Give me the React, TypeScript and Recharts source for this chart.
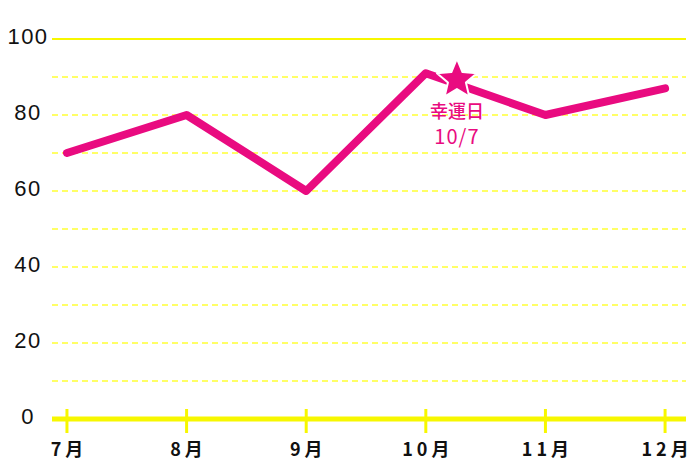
import React from 'react'
import { LineChart, Line, XAxis, YAxis, ReferenceLine, Scatter } from 'recharts'

// months on the x axis (numeric so the lucky-day star can sit between them)
const months = [7, 8, 9, 10, 11, 12]
const monthLabels = ['7月', '8月', '9月', '10月', '11月', '12月']
const fortune = [70, 80, 60, 91, 80, 87]

const yTicks = [0, 20, 40, 60, 80, 100]
const gridValues = [10, 20, 30, 40, 50, 60, 70, 80, 90]

// lucky day marker: Oct 7
const luckyX = [10.26]
const luckyY = [89.3]
const luckyText = ['幸運日']
const luckyDate = ['10/7']

const PINK = '#E90B80'
const YELLOW = '#F7F700'

const data = months.map((m, i) => ({ x: m, v: fortune[i] }))
const starData = luckyX.map((x, i) => ({ x, v: luckyY[i], text: luckyText[i], date: luckyDate[i] }))

const MonthTick = (props: any) => {
  const { x, y, payload } = props
  const idx = months.indexOf(payload.value)
  return (
    <g>
      <line x1={x} x2={x} y1={y - 10} y2={y + 14} stroke={YELLOW} strokeWidth={3} />
      <text x={x + 2} y={y + 37} textAnchor="middle" fontSize={18} fontWeight="bold"
        letterSpacing={4} fill="#111" fontFamily="'Noto Sans CJK JP', sans-serif">
        {monthLabels[idx]}
      </text>
    </g>
  )
}

const ValueTick = (props: any) => {
  const { y, payload } = props
  return (
    <text x={28} y={y - 3} textAnchor="middle" dominantBaseline="central" fontSize={22}
      letterSpacing={1.5} fill="#111" fontFamily="'Liberation Sans', sans-serif">
      {payload.value}
    </text>
  )
}

const Star = (props: any) => {
  const { cx, cy, payload } = props
  const R = 21
  const r = R * 0.45
  const pts = []
  for (let i = 0; i < 10; i++) {
    const rad = i % 2 === 0 ? R : r
    const a = -Math.PI / 2 + (i * Math.PI) / 5
    pts.push(`${cx + rad * Math.cos(a)},${cy + rad * Math.sin(a)}`)
  }
  return (
    <g>
      <polygon points={pts.join(' ')} fill={PINK} stroke="#fff" strokeWidth={2} strokeLinejoin="round" />
      <text x={cx} y={cy + 38} textAnchor="middle" fontSize={18} fill={PINK} fontWeight={500}
        fontFamily="'Noto Sans CJK JP', sans-serif">{payload.text}</text>
      <text x={cx} y={cy + 64} textAnchor="middle" fontSize={20} fill={PINK} letterSpacing={1}
        fontFamily="'Noto Sans CJK JP', sans-serif">{payload.date}</text>
    </g>
  )
}

export default function App() {
  return (
    <div style={{ margin: -8, width: 700, height: 467, background: '#fff' }}>
      <LineChart width={700} height={467} data={data} margin={{ top: 39, right: 14, bottom: 0, left: 0 }}>
        <XAxis dataKey="x" type="number" domain={[6.875, 12.175]} ticks={months}
          allowDataOverflow interval={0} height={48} tickSize={0} tickMargin={0}
          axisLine={{ stroke: YELLOW, strokeWidth: 5 }} tickLine={false} tick={<MonthTick />} />
        <YAxis dataKey="v" type="number" domain={[0, 100]} ticks={yTicks} width={52}
          axisLine={false} tickLine={false} tick={<ValueTick />} />
        {gridValues.map((g) => (
          <ReferenceLine key={g} y={g} stroke="#FFFF66" strokeWidth={2} strokeDasharray="6 4" />
        ))}
        <ReferenceLine y={100} stroke={YELLOW} strokeWidth={2} />
        <Line type="linear" dataKey="v" stroke={PINK} strokeWidth={8} strokeLinecap="round"
          strokeLinejoin="round" dot={false} activeDot={false} isAnimationActive={false} />
        <Scatter data={starData} dataKey="v" shape={<Star />} isAnimationActive={false} />
      </LineChart>
    </div>
  )
}
